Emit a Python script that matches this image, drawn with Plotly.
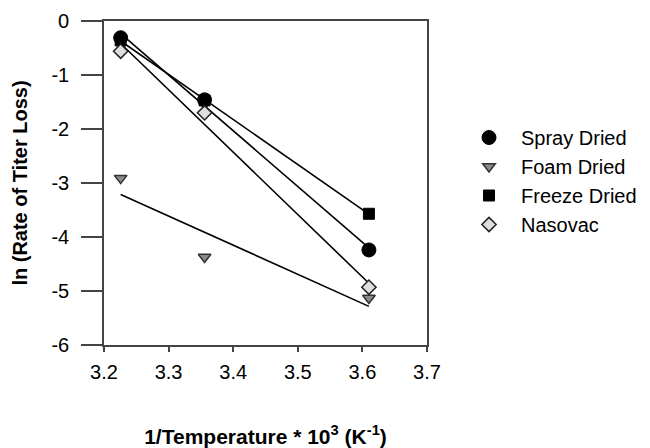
import numpy as np
import plotly.graph_objects as go

inv_temp = [3.2258, 3.3557, 3.6101]  # 1/T * 10^3 (K^-1)
series_names = ["Spray Dried", "Foam Dried", "Freeze Dried", "Nasovac"]
spray_dried = [-0.31, -1.46, -4.24]
foam_dried = [-2.91, -4.37, -5.13]
freeze_dried = [-0.36, -1.47, -3.57]
nasovac = [-0.56, -1.70, -4.93]
x_ticks = [3.2, 3.3, 3.4, 3.5, 3.6, 3.7]
y_ticks = [0, -1, -2, -3, -4, -5, -6]

values = [spray_dried, foam_dried, freeze_dried, nasovac]
styles = [
    dict(symbol="circle", size=14, color="black", line=dict(color="black", width=1)),
    dict(symbol="triangle-down", size=11, color="#8a8a8a", line=dict(color="#333333", width=1.5)),
    dict(symbol="square", size=11, color="black", line=dict(color="black", width=1)),
    dict(symbol="diamond", size=11, color="#dedede", line=dict(color="#222222", width=1.5)),
]

FONT = "Liberation Sans, Arial, sans-serif"
fig = go.Figure()

# regression lines
xs = np.array(inv_temp)
for vals in values:
    m, b = np.polyfit(xs, np.array(vals), 1)
    xl = [xs.min(), xs.max()]
    fig.add_trace(go.Scatter(x=xl, y=[m * v + b for v in xl], mode="lines",
                             line=dict(color="black", width=1.6), showlegend=False,
                             hoverinfo="skip"))

for name, vals, st in zip(series_names, values, styles):
    fig.add_trace(go.Scatter(x=inv_temp, y=vals, mode="markers", name=name, marker=st))

axis_common = dict(showgrid=False, zeroline=False, showline=True, linecolor="#444444",
                   linewidth=1.6, mirror=True, ticks="outside", tickcolor="#444444",
                   tickwidth=1.6, automargin=False,
                   tickfont=dict(family=FONT, size=20, color="black"))

fig.update_xaxes(range=[3.2, 3.7], tickvals=x_ticks, ticktext=[f"{v:.1f}" for v in x_ticks],
                 ticklen=5, ticklabelstandoff=3,
                 title=dict(text="<b>1/Temperature * 10<sup>3</sup> (K<sup>-1</sup>)</b>",
                            font=dict(family=FONT, size=21, color="black"), standoff=49),
                 **axis_common)
fig.update_yaxes(range=[-6, 0], tickvals=y_ticks, ticktext=[str(v) for v in y_ticks],
                 ticklen=21, ticklabelstandoff=8,
                 title=dict(text="<b>ln (Rate of Titer Loss)</b>",
                            font=dict(family=FONT, size=20, color="black"), standoff=18),
                 **axis_common)

fig.update_layout(
    width=650, height=448,
    margin=dict(l=104, r=223, t=21, b=103),
    plot_bgcolor="white", paper_bgcolor="white",
    font=dict(family=FONT, size=20, color="black"),
    legend=dict(xref="container", yref="container", x=457 / 650, y=1 - 118 / 448,
                xanchor="left", yanchor="top", font=dict(family=FONT, size=20, color="black"),
                itemwidth=54, bgcolor="rgba(0,0,0,0)"),
)

fig.write_html("out.html")
